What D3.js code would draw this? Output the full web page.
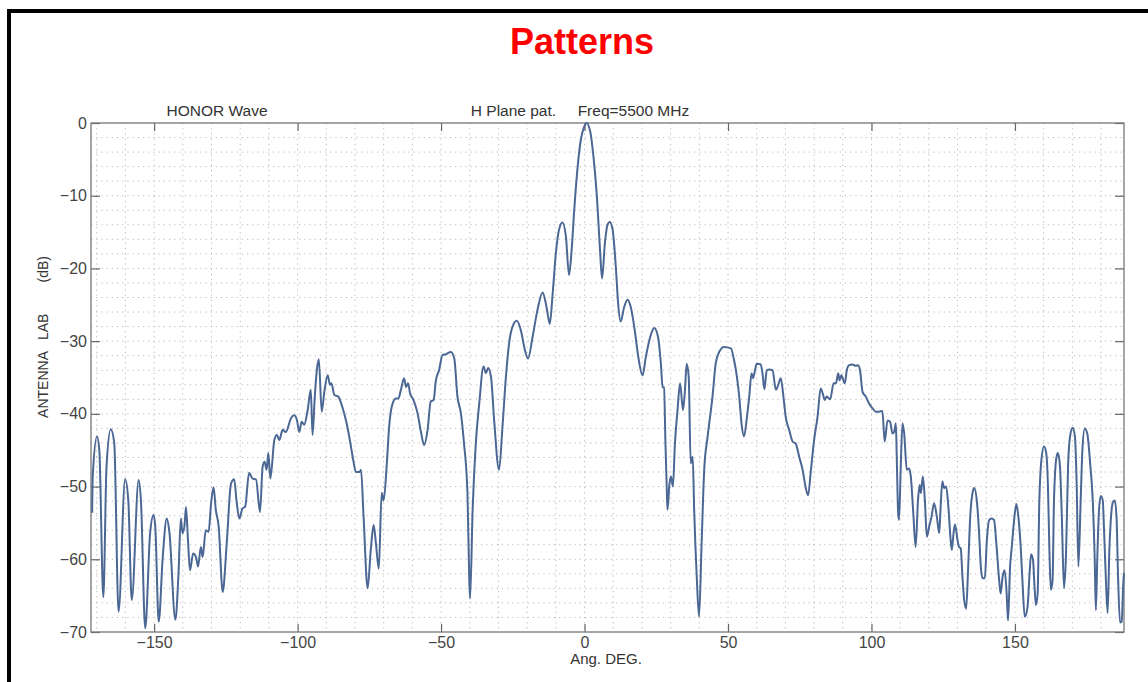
<!DOCTYPE html>
<html>
<head>
<meta charset="utf-8">
<script src="https://cdn.jsdelivr.net/npm/d3@7"></script>
<style>
  body { margin: 0; background: #fff; }
  svg { display: block; font-family: "Liberation Sans", Arial, Helvetica, sans-serif; }
</style>
</head>
<body>
<div id="chart"></div>
<script>
// H plane pattern (angle in deg, level in dB)
const angles = [
  -171.6, -171.4, -169.9, -169.1, -167.7, -166.6, -165.1, -163.9, -162.4, -160.1,
  -159.0, -157.8, -155.4, -154.6, -153.1, -151.4, -150.2, -149.6, -148.4, -147.0,
  -145.6, -144.7, -142.6, -141.5, -140.7, -140.1, -139.4, -138.9, -138.2, -137.5,
  -136.4, -135.4, -134.7, -133.7, -133.1, -132.0, -131.0, -130.2, -129.3, -128.5,
  -127.5, -126.1, -124.7, -123.2, -122.1, -121.3, -120.3, -119.2, -118.3, -116.9,
  -115.7, -114.5, -113.1, -112.2, -111.5, -110.8, -110.2, -109.5, -108.1, -107.2,
  -106.4, -105.2, -104.1, -102.3, -101.2, -100.2, -99.4, -98.6, -97.7, -96.5,
  -95.4, -94.8, -94.0, -93.3, -92.6, -91.6, -90.7, -89.5, -88.7, -88.2,
  -87.2, -85.9, -84.3, -82.8, -81.4, -80.5, -79.7, -78.5, -77.9, -77.0,
  -75.6, -74.5, -73.5, -72.7, -71.7, -70.7, -70.0, -68.9, -68.1, -66.9,
  -65.7, -64.9, -64.0, -62.9, -62.2, -61.5, -60.8, -59.6, -58.2, -57.0,
  -55.9, -54.7, -53.6, -52.6, -51.8, -50.7, -49.5, -48.3, -46.6, -45.4,
  -44.3, -43.1, -42.0, -40.8, -40.2, -39.9, -39.0, -37.9, -36.7, -35.2,
  -34.4, -33.6, -32.6, -31.5, -29.8, -28.6, -27.4, -26.3, -25.1, -23.6,
  -22.2, -20.8, -19.7, -18.1, -16.4, -14.6, -13.5, -12.7, -12.1, -11.1,
  -10.0, -8.9, -7.7, -6.5, -5.4, -4.5, -3.6, -2.4, -1.3, -0.1,
  0.7, 2.0, 3.1, 4.3, 5.4, 6.1, 7.1, 8.0, 8.8, 9.8,
  10.9, 11.7, 12.6, 13.8, 15.0, 16.1, 17.5, 18.7, 20.2, 21.4,
  22.9, 24.3, 25.6, 26.6, 27.2, 27.7, 28.2, 28.7, 28.9, 29.6,
  30.1, 30.8, 31.5, 32.4, 33.3, 34.3, 35.0, 35.6, 36.3, 37.0,
  37.7, 38.2, 39.1, 39.9, 40.8, 41.7, 42.9, 44.6, 45.7, 46.9,
  48.6, 51.0, 52.1, 53.1, 53.9, 54.7, 55.6, 56.6, 57.4, 58.2,
  58.7, 59.3, 60.0, 61.4, 62.0, 62.7, 63.5, 64.3, 65.5, 66.7,
  67.5, 68.4, 69.3, 70.1, 71.3, 72.5, 73.6, 74.8, 76.0, 77.1,
  77.9, 78.9, 80.0, 81.2, 82.3, 83.0, 83.7, 84.4, 85.6, 86.8,
  87.6, 88.4, 88.9, 89.5, 90.7, 91.4, 92.2, 93.4, 94.5, 95.3,
  96.0, 96.9, 98.0, 99.2, 100.3, 101.5, 102.6, 103.8, 104.6, 105.6,
  106.5, 107.3, 107.9, 108.5, 108.8, 109.3, 109.6, 110.2, 110.8, 111.4,
  112.3, 113.1, 113.7, 114.5, 115.4, 116.2, 116.8, 117.2, 117.9, 118.6,
  119.3, 120.1, 120.9, 121.8, 122.8, 123.6, 124.1, 124.7, 125.3, 126.0,
  126.8, 127.6, 128.0, 128.6, 129.1, 130.0, 130.5, 131.1, 131.7, 132.3,
  133.0, 133.7, 134.4, 135.2, 135.8, 136.7, 137.5, 138.1, 138.7, 139.5,
  140.2, 141.0, 141.8, 142.7, 143.6, 144.5, 145.0, 145.7, 146.4, 147.1,
  147.6, 148.3, 148.9, 149.7, 150.5, 151.2, 152.0, 152.6, 153.4, 154.4,
  155.1, 155.6, 156.3, 156.7, 157.3, 157.9, 158.5, 159.2, 160.1, 160.9,
  161.5, 162.0, 162.5, 163.1, 163.6, 164.5, 165.0, 165.7, 166.3, 167.1,
  167.8, 168.5, 169.2, 170.1, 170.9, 171.5, 172.1, 172.9, 173.5, 174.3,
  175.2, 176.2, 177.1, 177.8, 178.2, 178.7, 179.3, 179.9, 180.6, 181.0,
  181.7, 182.3, 182.9, 183.4, 184.2, 184.8, 185.4, 185.9, 186.6, 187.2,
  187.7, 188.0
];
const levels = [
  -53.6, -48.6, -43.1, -45.0, -65.2, -47.3, -42.1, -44.0, -67.2, -49.0,
  -51.9, -65.6, -49.1, -51.9, -69.5, -56.4, -53.9, -55.5, -68.6, -59.7,
  -54.4, -56.2, -68.3, -61.9, -54.4, -56.4, -55.3, -52.8, -57.4, -61.5,
  -59.2, -59.7, -61.0, -58.3, -59.7, -56.0, -56.2, -52.5, -50.1, -53.2,
  -55.5, -64.5, -57.8, -49.6, -49.0, -51.9, -54.4, -53.0, -52.8, -48.1,
  -48.9, -49.0, -53.5, -47.3, -46.6, -47.7, -45.4, -48.9, -43.6, -42.9,
  -43.6, -42.2, -42.5, -40.6, -40.2, -40.9, -42.5, -41.1, -41.5, -39.5,
  -36.7, -42.9, -37.6, -34.0, -32.5, -39.7, -37.0, -34.7, -36.0, -35.8,
  -37.4, -37.6, -39.2, -41.5, -44.5, -46.6, -48.0, -48.0, -47.7, -54.2,
  -64.0, -58.7, -55.3, -57.8, -61.3, -50.9, -51.9, -46.8, -41.8, -38.6,
  -37.9, -37.9, -36.7, -35.1, -36.3, -35.8, -37.2, -38.1, -39.9, -42.5,
  -44.3, -42.2, -38.3, -38.1, -35.4, -34.0, -31.9, -31.8, -31.5, -32.4,
  -37.6, -39.9, -44.1, -50.9, -62.4, -65.4, -53.2, -44.1, -38.6, -33.5,
  -34.4, -33.7, -34.9, -40.9, -47.7, -41.8, -34.9, -30.3, -28.0, -27.2,
  -28.5, -31.2, -32.4, -29.4, -25.7, -23.3, -24.8, -26.6, -27.6, -23.4,
  -17.9, -14.7, -13.7, -15.6, -20.9, -17.5, -12.0, -6.0, -2.3, -0.5,
  0.0, -1.2, -4.6, -10.1, -17.5, -21.4, -16.5, -14.0, -13.6, -14.7,
  -19.8, -24.8, -27.3, -25.3, -24.3, -25.3, -28.5, -32.1, -34.7, -32.1,
  -29.4, -28.2, -29.4, -33.1, -36.3, -36.4, -44.1, -50.9, -53.2, -49.6,
  -48.6, -50.0, -44.1, -39.5, -35.8, -39.5, -36.7, -33.1, -34.9, -46.8,
  -45.9, -53.2, -62.4, -67.9, -57.8, -47.7, -43.1, -37.6, -33.1, -31.5,
  -30.8, -31.0, -32.6, -34.9, -37.6, -41.3, -43.1, -40.4, -37.6, -34.4,
  -35.1, -34.2, -33.1, -33.2, -34.4, -36.6, -34.0, -33.9, -34.0, -36.7,
  -36.0, -35.1, -37.6, -40.4, -42.2, -43.8, -44.1, -45.9, -47.7, -50.2,
  -51.2, -47.7, -43.6, -40.4, -36.5, -37.2, -38.1, -37.6, -38.0, -35.8,
  -35.8, -34.4, -35.4, -34.7, -35.8, -34.0, -33.3, -33.2, -33.4, -33.3,
  -34.0, -37.0, -37.6, -38.6, -39.2, -39.7, -39.7, -39.6, -43.8, -40.9,
  -41.1, -42.7, -42.5, -41.3, -45.9, -53.7, -54.6, -47.3, -41.3, -42.7,
  -47.7, -47.5, -48.6, -53.2, -58.3, -51.9, -49.8, -50.9, -48.6, -51.9,
  -56.9, -55.5, -54.2, -52.3, -54.2, -56.4, -52.8, -49.3, -50.2, -50.0,
  -52.8, -57.4, -58.7, -56.4, -55.2, -57.4, -58.3, -58.5, -62.4, -65.6,
  -66.8, -61.0, -54.2, -50.9, -50.2, -51.9, -56.4, -61.0, -62.6, -62.6,
  -57.4, -54.6, -54.4, -54.6, -58.3, -62.9, -64.7, -62.4, -61.5, -64.7,
  -68.4, -61.0, -58.3, -54.6, -52.4, -54.2, -58.3, -62.9, -67.9, -66.5,
  -61.9, -59.3, -60.1, -62.9, -66.3, -64.7, -51.9, -46.4, -44.5, -45.4,
  -50.0, -58.7, -64.2, -62.9, -51.9, -45.9, -45.4, -47.3, -53.7, -64.0,
  -59.2, -47.3, -43.1, -41.9, -43.1, -49.6, -61.0, -51.9, -45.0, -42.0,
  -42.7, -46.8, -51.9, -60.1, -67.0, -59.7, -53.2, -51.3, -51.9, -55.5,
  -62.9, -67.4, -58.7, -54.6, -52.1, -51.9, -54.2, -61.9, -68.7, -68.6,
  -63.8, -61.9
];
const xTicks = [-150, -100, -50, 0, 50, 100, 150];
const yTicks = [0, -10, -20, -30, -40, -50, -60, -70];
const xDomain = [-172, 188];
const yDomain = [-70, 0];

const width = 1148, height = 682;
const margin = { left: 91, right: 24, top: 123, bottom: 50 };
const innerW = width - margin.left - margin.right;
const innerH = height - margin.top - margin.bottom;

const svg = d3.select("#chart").append("svg")
  .attr("width", width)
  .attr("height", height);

// slide frame (only top and left edges show)
svg.append("rect")
  .attr("x", 9).attr("y", 11)
  .attr("width", width + 20).attr("height", height + 20)
  .attr("fill", "none").attr("stroke", "#000").attr("stroke-width", 4);

svg.append("text")
  .attr("x", 582).attr("y", 54)
  .attr("text-anchor", "middle")
  .attr("font-size", 36).attr("font-weight", "bold")
  .attr("fill", "#ff0000")
  .text("Patterns");

const x = d3.scaleLinear().domain(xDomain).range([0, innerW]);
const y = d3.scaleLinear().domain(yDomain).range([innerH, 0]);

const g = svg.append("g").attr("transform", `translate(${margin.left},${margin.top})`);

// dotted grid: every 10 deg and every 2 dB
const gridX = d3.range(-170, 189, 10);
const gridY = d3.range(-68, 0, 2);
g.append("g").selectAll("line").data(gridX).join("line")
  .attr("x1", d => x(d)).attr("x2", d => x(d))
  .attr("y1", 0).attr("y2", innerH)
  .attr("stroke", "#b8b8b8").attr("stroke-width", 1)
  .attr("stroke-dasharray", "1.2,4");
g.append("g").selectAll("line").data(gridY).join("line")
  .attr("x1", 0).attr("x2", innerW)
  .attr("y1", d => y(d)).attr("y2", d => y(d))
  .attr("stroke", "#b8b8b8").attr("stroke-width", 1)
  .attr("stroke-dasharray", "1.2,4");

// axes with inward ticks
const axisStyle = sel => {
  sel.select(".domain").remove();
  sel.selectAll(".tick line").attr("stroke", "#666").attr("stroke-width", 1.2);
};
g.append("g").attr("transform", `translate(0,${innerH})`)
  .call(d3.axisBottom(x).tickValues(xTicks).tickSizeInner(-8).tickSizeOuter(0).tickPadding(5))
  .call(axisStyle);
g.append("g")
  .call(d3.axisTop(x).tickValues(xTicks).tickSizeInner(-8).tickSizeOuter(0).tickFormat(""))
  .call(axisStyle);
g.append("g")
  .call(d3.axisLeft(y).tickValues(yTicks).tickSizeInner(-9).tickSizeOuter(0).tickPadding(4))
  .call(axisStyle);
g.append("g").attr("transform", `translate(${innerW},0)`)
  .call(d3.axisRight(y).tickValues(yTicks).tickSizeInner(-9).tickSizeOuter(0).tickFormat(""))
  .call(axisStyle);

g.selectAll(".tick text").attr("font-size", 16).attr("fill", "#444")
  .attr("font-family", "'Liberation Sans', Arial, sans-serif");

g.append("rect")
  .attr("width", innerW).attr("height", innerH)
  .attr("fill", "none").attr("stroke", "#777").attr("stroke-width", 1.3);

// pattern trace
const pts = angles.map((a, i) => [a, levels[i]]);
const line = d3.line()
  .x(d => x(d[0]))
  .y(d => y(d[1]))
  .curve(d3.curveMonotoneX);
g.append("path")
  .datum(pts)
  .attr("d", line)
  .attr("fill", "none")
  .attr("stroke", "#4b6794")
  .attr("stroke-width", 2)
  .attr("stroke-linejoin", "round");

// labels
svg.append("text")
  .attr("x", 217).attr("y", 116)
  .attr("text-anchor", "middle").attr("font-size", 15.5).attr("fill", "#333")
  .text("HONOR Wave");
svg.append("text")
  .attr("x", 580).attr("y", 116)
  .attr("text-anchor", "middle").attr("font-size", 15.5).attr("fill", "#333")
  .style("white-space", "pre")
  .text("H Plane pat.     Freq=5500 MHz");
svg.append("text")
  .attr("transform", "translate(48,337) rotate(-90)")
  .attr("text-anchor", "middle").attr("font-size", 14).attr("fill", "#333")
  .style("white-space", "pre")
  .text("ANTENNA   LAB        (dB)");
svg.append("text")
  .attr("x", 606).attr("y", 664)
  .attr("text-anchor", "middle").attr("font-size", 15).attr("fill", "#333")
  .text("Ang. DEG.");
</script>
</body>
</html>
